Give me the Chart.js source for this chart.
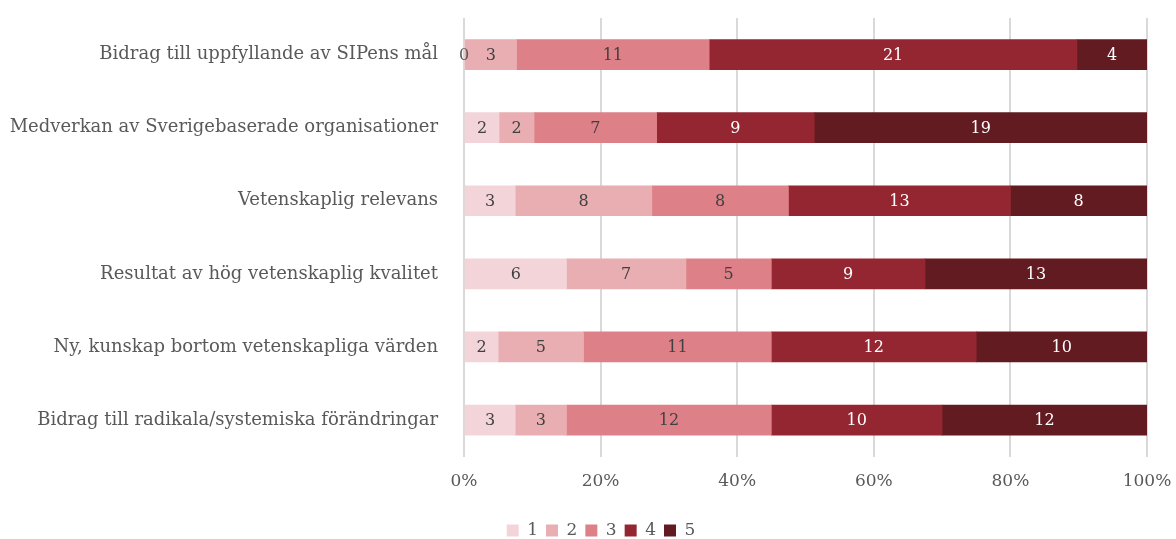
<!DOCTYPE html>
<html>
<head>
<meta charset="utf-8">
<script src="https://cdn.jsdelivr.net/npm/chart.js@4/dist/chart.umd.min.js"></script>
<style>
  html, body { margin: 0; padding: 0; background: #fff; }
  #wrap { width: 1176px; height: 539px; position: relative; }
</style>
</head>
<body>
<div id="wrap"><canvas id="chart"></canvas></div>
<script>
// Bedömningskriterier, uppifrån och ned
const categories = [
    'Bidrag till uppfyllande av SIPens mål',
    'Medverkan av Sverigebaserade organisationer',
    'Vetenskaplig relevans',
    'Resultat av hög vetenskaplig kvalitet',
    'Ny, kunskap bortom vetenskapliga värden',
    'Bidrag till radikala/systemiska förändringar'
];

// Antal svar per betyg (1-5)
const score1 = [0, 2, 3, 6, 2, 3];
const score2 = [3, 2, 8, 7, 5, 3];
const score3 = [11, 7, 8, 5, 11, 12];
const score4 = [21, 9, 13, 9, 12, 10];
const score5 = [4, 19, 8, 13, 10, 12];

const scoreLabels = ['1', '2', '3', '4', '5'];
const scoreColors = ['#f3d5d9', '#e9aeb2', '#de8087', '#932630', '#621b21'];
const labelColors = ['#404040', '#404040', '#404040', '#ffffff', '#ffffff'];

const FONT = "'DejaVu Serif', 'Liberation Serif', serif";
const TEXT = '#595959';

const counts = [score1, score2, score3, score4, score5];
const totals = categories.map((_, i) => counts.reduce((s, arr) => s + arr[i], 0));

const datasets = counts.map((arr, k) => ({
    label: scoreLabels[k],
    data: arr.map((v, i) => v / totals[i] * 100),
    raw: arr,
    backgroundColor: scoreColors[k],
    borderWidth: 0,
    barThickness: 30
}));

// Skriver antalet mitt i varje segment
const segmentLabels = {
    id: 'segmentLabels',
    afterDatasetsDraw(chart) {
        const ctx = chart.ctx;
        ctx.save();
        ctx.font = '16px ' + FONT;
        ctx.textAlign = 'center';
        ctx.textBaseline = 'middle';
        chart.data.datasets.forEach((ds, k) => {
            chart.getDatasetMeta(k).data.forEach((bar, i) => {
                const x = (bar.x + bar.base) / 2;
                ctx.fillStyle = ds.raw[i] === 0 ? TEXT : labelColors[k];
                ctx.fillText(String(ds.raw[i]), x, bar.y + 1);
            });
        });
        ctx.restore();
    }
};

// Förklaringen: mindre luft under, och lite åt höger (mitt över staplarna)
const tightLegend = {
    id: 'tightLegend',
    beforeUpdate(chart) {
        const legend = chart.legend;
        if (!legend || legend._tight) return;
        const fit = legend.fit;
        legend.fit = function () {
            fit.call(this);
            this.height -= 10;
        };
        const draw = legend.draw;
        legend.draw = function () {
            this.ctx.save();
            this.ctx.translate(13, 0);
            draw.call(this);
            this.ctx.restore();
        };
        legend._tight = true;
    }
};

new Chart(document.getElementById('chart'), {
    type: 'bar',
    data: { labels: categories, datasets },
    plugins: [segmentLabels, tightLegend],
    options: {
        indexAxis: 'y',
        responsive: true,
        maintainAspectRatio: false,
        animation: false,
        layout: { padding: { top: 0, left: 0, right: 0, bottom: 0 } },
        plugins: {
            tooltip: { enabled: false },
            legend: {
                position: 'bottom',
                labels: {
                    color: TEXT,
                    boxWidth: 12,
                    boxHeight: 12,
                    padding: 8,
                    font: { family: FONT, size: 17 }
                }
            }
        },
        scales: {
            x: {
                stacked: true,
                min: 0,
                max: 100,
                grid: { color: '#d9d9d9', lineWidth: 2, drawTicks: false },
                border: { display: false },
                ticks: {
                    stepSize: 20,
                    padding: 15,
                    color: TEXT,
                    font: { family: FONT, size: 17 },
                    callback: v => v + '%'
                },
                afterFit(scale) {
                    scale.paddingRight = 29;
                    scale.paddingLeft = 0;
                    scale.height += 7;
                }
            },
            y: {
                stacked: true,
                grid: { display: false },
                border: { display: false },
                ticks: {
                    padding: 18,
                    color: TEXT,
                    font: { family: FONT, size: 18 }
                },
                afterFit(scale) {
                    scale.width = 464;
                    scale.paddingTop = 18;
                    scale.paddingBottom = 0;
                }
            }
        }
    }
});
</script>
</body>
</html>
